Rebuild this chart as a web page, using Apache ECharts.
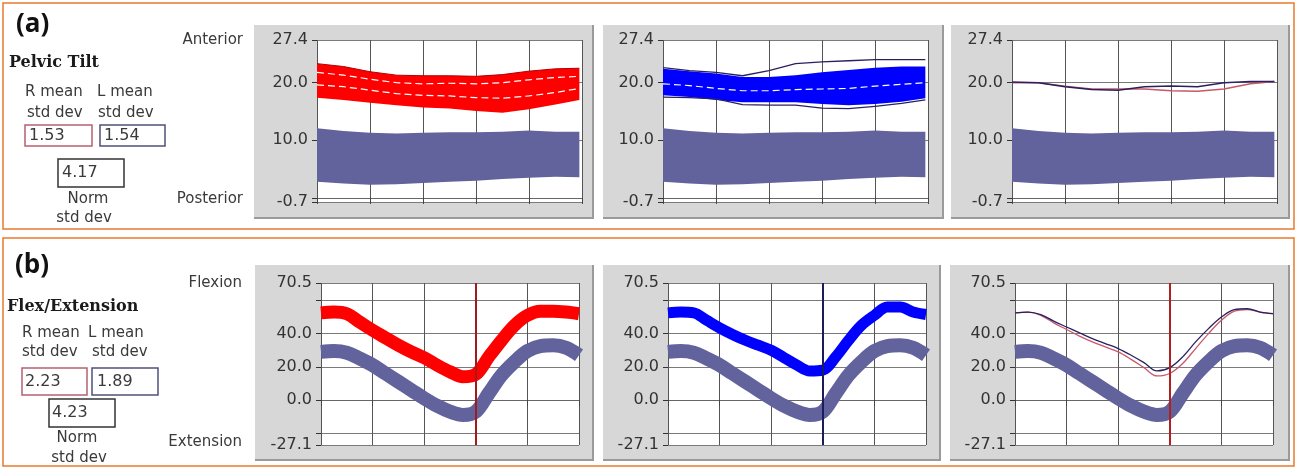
<!DOCTYPE html>
<html>
<head>
<meta charset="UTF-8">
<title>Pelvic Tilt - Flex/Extension</title>
<script src="https://cdn.jsdelivr.net/npm/echarts@6/dist/echarts.min.js"></script>
</head>
<body style="margin:0;background:#fff">
<div id="main" style="width:1299px;height:469px"></div>
<script>
// ---- (a) pelvic tilt, % of gait cycle ----
var tiltPct = [0, 10, 20, 30, 40, 50, 60, 70, 80, 90, 99];
var tiltRedHi = [23.3, 22.8, 21.9, 21.3, 21.2, 21.2, 21.1, 21.4, 22.0, 22.4, 22.5];
var tiltRedLo = [17.4, 17.0, 16.5, 16.1, 15.7, 15.5, 15.1, 14.8, 15.4, 16.2, 17.0];
var tiltRedGap1 = [21.8, 21.3, 20.6, 20.0, 19.8, 19.9, 19.8, 20.0, 20.5, 20.9, 21.1];
var tiltRedGap2 = [19.6, 19.3, 18.7, 18.1, 17.8, 17.7, 17.4, 17.3, 17.7, 18.3, 19.0];
var tiltBlueHi = [22.4, 22.0, 21.6, 21.0, 21.0, 21.3, 21.8, 22.2, 22.6, 22.8, 22.8];
var tiltBlueLo = [17.8, 17.5, 17.0, 16.6, 16.6, 16.6, 16.3, 16.1, 16.3, 16.7, 17.3];
var tiltBlueOutHi = [22.6, 22.1, 21.8, 21.2, 22.1, 23.3, 23.6, 23.8, 24.0, 24.0, 24.0];
var tiltBlueOutLo = [17.5, 17.4, 17.2, 16.2, 16.1, 16.1, 15.6, 15.5, 15.9, 16.4, 17.0];
var tiltBlueGap = [19.8, 19.5, 19.0, 18.6, 18.6, 18.8, 18.9, 19.0, 19.4, 19.7, 20.0];
var tiltNormHi = [12.1, 11.6, 11.3, 11.2, 11.3, 11.4, 11.4, 11.5, 11.7, 11.5, 11.5];
var tiltNormLo = [2.8, 2.5, 2.3, 2.4, 2.6, 2.8, 3.0, 3.3, 3.5, 3.7, 3.6];
var tiltMeanL = [20.1, 20.0, 19.3, 18.8, 18.7, 19.3, 19.4, 19.3, 20.0, 20.2, 20.2];
var tiltMeanR = [20.0, 20.0, 19.4, 18.9, 18.9, 18.9, 18.6, 18.5, 18.9, 19.8, 20.2];
var tiltLabels = [-0.7, 10.0, 20.0, 27.4];
var tiltTicks = [-0.7, 0, 10, 20, 27.4];

// ---- (b) flex/extension ----
var flexPct = [0, 5, 10, 15, 20, 25, 30, 35, 40, 45, 50, 55, 60, 65, 70, 75, 80, 85, 90, 95, 100];
var flexRed = [52.5, 53, 52, 47, 42, 37.5, 33, 29, 25.5, 21, 17, 14, 15.5, 26, 36, 45, 51, 53.5, 53.5, 53, 52];
var flexBlue = [52.5, 53, 52.5, 48, 43.5, 39.5, 36, 33, 30, 25.5, 21, 17.5, 18, 26, 36, 45, 51, 56, 56, 53, 51.5];
var flexNorm = [29, 29.5, 28.5, 25, 21, 16, 11, 6, 1, -3.5, -7, -9, -7, 4, 15, 23, 29.5, 32.5, 33, 31.5, 27];
var flexMeanL = [52.5, 53, 51.5, 47.5, 44, 40.5, 37, 34, 31, 27, 22.5, 17.5, 19.5, 26, 35, 43, 50, 54.5, 55, 53, 52];
var flexMeanR = [52.5, 53, 51, 46.5, 42.5, 38.5, 35, 32, 29, 24.5, 19.5, 14.5, 16, 22, 31, 40, 48, 53.5, 54.5, 53, 52];
var flexLabels = [-27.1, 0.0, 20.0, 40.0, 70.5];
var flexTicks = [-27.1, -20, 0, 20, 40, 60, 70.5];
var toeOff = 60;

// std dev boxes
var tiltStd = ['1.53', '1.54', '4.17'];
var flexStd = ['2.23', '1.89', '4.23'];

var RED = '#ff0000', BLUE = '#0000ff', NORM = '#62629c', NAVY = '#2a2060', PINK = '#c85868';
var TXT = '#3a3a3a';

var myChart = echarts.init(document.getElementById('main'));

function zip(xs, ys) {
  return xs.map(function (x, i) { return [x, ys[i]]; });
}

function band(idx, xs, lo, hi, color) {
  return {
    type: 'custom', xAxisIndex: idx, yAxisIndex: idx, silent: true, clip: true,
    data: [[xs[0], lo[0]]],
    renderItem: function (params, api) {
      var pts = [];
      for (var i = 0; i < xs.length; i++) pts.push(api.coord([xs[i], hi[i]]));
      for (var j = xs.length - 1; j >= 0; j--) pts.push(api.coord([xs[j], lo[j]]));
      return { type: 'polygon', shape: { points: pts }, style: { fill: color } };
    }
  };
}

function line(idx, xs, ys, color, width, extra) {
  var s = {
    type: 'line', xAxisIndex: idx, yAxisIndex: idx, data: zip(xs, ys),
    symbol: 'none', silent: true,
    lineStyle: { color: color, width: width, cap: 'butt', join: 'round' }
  };
  for (var k in extra) s[k] = extra[k];
  return s;
}

function marker(color) {
  return {
    silent: true, symbol: 'none', label: { show: false },
    lineStyle: { color: color, width: 2, type: 'solid' },
    data: [{ xAxis: toeOff }]
  };
}

var gridBoxes = [
  { left: 317, top: 40, width: 265, height: 162 },
  { left: 663, top: 40, width: 265, height: 162 },
  { left: 1012, top: 40, width: 265, height: 162 },
  { left: 321, top: 283, width: 258, height: 162 },
  { left: 668, top: 283, width: 258, height: 162 },
  { left: 1015, top: 283, width: 258, height: 162 }
];

var grids = [], xAxes = [], yAxes = [];
gridBoxes.forEach(function (g, i) {
  var isTilt = i < 3;
  grids.push({ left: g.left, top: g.top, width: g.width, height: g.height, show: true, backgroundColor: '#fff', borderWidth: 0 });
  xAxes.push({
    type: 'value', gridIndex: i, min: 0, max: 100, interval: 20,
    axisLabel: { show: false },
    axisLine: { show: true, lineStyle: { color: '#666' } },
    axisTick: { show: true, length: 6, lineStyle: { color: '#444' } },
    splitLine: { show: true, lineStyle: { color: '#555', width: 1 } }
  });
  yAxes.push({
    type: 'value', gridIndex: i,
    min: isTilt ? -0.7 : -27.1, max: isTilt ? 27.4 : 70.5,
    axisLine: { show: false },
    axisTick: { show: true, length: 5, customValues: isTilt ? tiltTicks : flexTicks, lineStyle: { color: '#333' } },
    axisLabel: {
      customValues: isTilt ? tiltLabels : flexLabels,
      formatter: function (v) { return v.toFixed(1); },
      fontSize: 16, color: '#333', fontFamily: 'DejaVu Sans', margin: 9
    },
    splitLine: { show: true, lineStyle: { color: '#7a7a7a', width: 1 } }
  });
});

var gapStyle = { lineStyle: { color: '#fff', width: 1.2, type: [7, 4] } };
var SM = 0.35;

var series = [
  // (a) right side
  band(0, tiltPct, tiltNormLo, tiltNormHi, NORM),
  band(0, tiltPct, tiltRedLo, tiltRedHi, RED),
  line(0, tiltPct, tiltRedHi, '#b00000', 1),
  line(0, tiltPct, tiltRedGap1, '#fff', 1.2, gapStyle),
  line(0, tiltPct, tiltRedGap2, '#fff', 1.2, gapStyle),
  // (a) left side
  band(1, tiltPct, tiltNormLo, tiltNormHi, NORM),
  band(1, tiltPct, tiltBlueLo, tiltBlueHi, BLUE),
  line(1, tiltPct, tiltBlueOutHi, NAVY, 1.3),
  line(1, tiltPct, tiltBlueOutLo, NAVY, 1.3),
  line(1, tiltPct, tiltBlueGap, '#fff', 1.2, gapStyle),
  // (a) means
  band(2, tiltPct, tiltNormLo, tiltNormHi, NORM),
  line(2, tiltPct, tiltMeanR, PINK, 1.5),
  line(2, tiltPct, tiltMeanL, NAVY, 1.5),
  // (b) right side
  line(3, flexPct, flexNorm, NORM, 14, { smooth: SM }),
  line(3, flexPct, flexRed, RED, 13, { smooth: SM, markLine: marker('#a01c1c') }),
  // (b) left side
  line(4, flexPct, flexNorm, NORM, 14, { smooth: SM }),
  line(4, flexPct, flexBlue, BLUE, 11, { smooth: SM, markLine: marker('#1c1c5a') }),
  // (b) means
  line(5, flexPct, flexNorm, NORM, 14, { smooth: SM }),
  line(5, flexPct, flexMeanR, PINK, 1.3, { smooth: SM }),
  line(5, flexPct, flexMeanL, NAVY, 1.3, { smooth: SM, markLine: marker('#b02020') })
];

// panel furniture (gray frames, orange outlines, side texts)
var g = [];
function frame(x, y, w, h) {
  g.push({ type: 'rect', z: -100, shape: { x: x, y: y, width: w, height: h }, style: { fill: '#d7d7d7' } });
  g.push({ type: 'polyline', z: -99, shape: { points: [[x + w, y], [x + w, y + h], [x, y + h]] }, style: { stroke: '#9a9a9a', lineWidth: 2, fill: null } });
}
function txt(s, x, y, font, align, color) {
  g.push({ type: 'text', z: 10, style: { text: s, x: x, y: y, font: font, fill: color || TXT, align: align || 'left', verticalAlign: 'middle' } });
}
function box(x, y, w, h, color) {
  g.push({ type: 'rect', z: 10, shape: { x: x, y: y, width: w, height: h }, style: { fill: '#fff', stroke: color, lineWidth: 1.5 } });
}

g.push({ type: 'rect', z: -101, shape: { x: 3, y: 3, width: 1291, height: 226 }, style: { fill: '#fff', stroke: '#ea7a2c', lineWidth: 1.5 } });
g.push({ type: 'rect', z: -101, shape: { x: 3, y: 238, width: 1291, height: 228 }, style: { fill: '#fff', stroke: '#ea7a2c', lineWidth: 1.5 } });

frame(254, 25, 339, 193); frame(603, 25, 340, 193); frame(951, 25, 338, 193);
frame(255, 265, 338, 195); frame(603, 265, 337, 195); frame(950, 265, 339, 195);

var F15 = '15px "DejaVu Sans"', F16 = '16px "DejaVu Sans"';
var HEAD = 'bold 26px "Open Sans"', SER = 'bold 16px "DejaVu Serif"';

txt('(a)', 16, 25, HEAD, 'left', '#111');
txt('Pelvic Tilt', 9, 63, SER, 'left', '#1a1a1a');
txt('R mean', 25, 92, F15); txt('L mean', 97, 92, F15);
txt('std dev', 27, 113, F15); txt('std dev', 98, 113, F15);
box(25, 125, 67, 21, '#b86070'); box(100, 125, 65, 21, '#50507a'); box(58, 159, 66, 28, '#333');
txt(tiltStd[0], 29, 136, F16); txt(tiltStd[1], 104, 136, F16); txt(tiltStd[2], 62, 173, F16);
txt('Norm', 88, 199, F15, 'center'); txt('std dev', 84, 218, F15, 'center');
txt('Anterior', 243, 40, F15, 'right'); txt('Posterior', 243, 199, F15, 'right');

txt('(b)', 15, 266, HEAD, 'left', '#111');
txt('Flex/Extension', 7, 307, SER, 'left', '#1a1a1a');
txt('R mean', 22, 333, F15); txt('L mean', 88, 333, F15);
txt('std dev', 22, 352, F15); txt('std dev', 92, 352, F15);
box(22, 368, 65, 27, '#b86070'); box(92, 368, 66, 27, '#50507a'); box(49, 399, 66, 28, '#333');
txt(flexStd[0], 25, 382, F16); txt(flexStd[1], 97, 382, F16); txt(flexStd[2], 52, 413, F16);
txt('Norm', 77, 438, F15, 'center'); txt('std dev', 79, 458, F15, 'center');
txt('Flexion', 242, 283, F15, 'right'); txt('Extension', 242, 442, F15, 'right');

var option = {
  animation: false,
  backgroundColor: '#fff',
  grid: grids,
  xAxis: xAxes,
  yAxis: yAxes,
  series: series,
  graphic: { elements: g }
};
myChart.setOption(option);
</script>
</body>
</html>
